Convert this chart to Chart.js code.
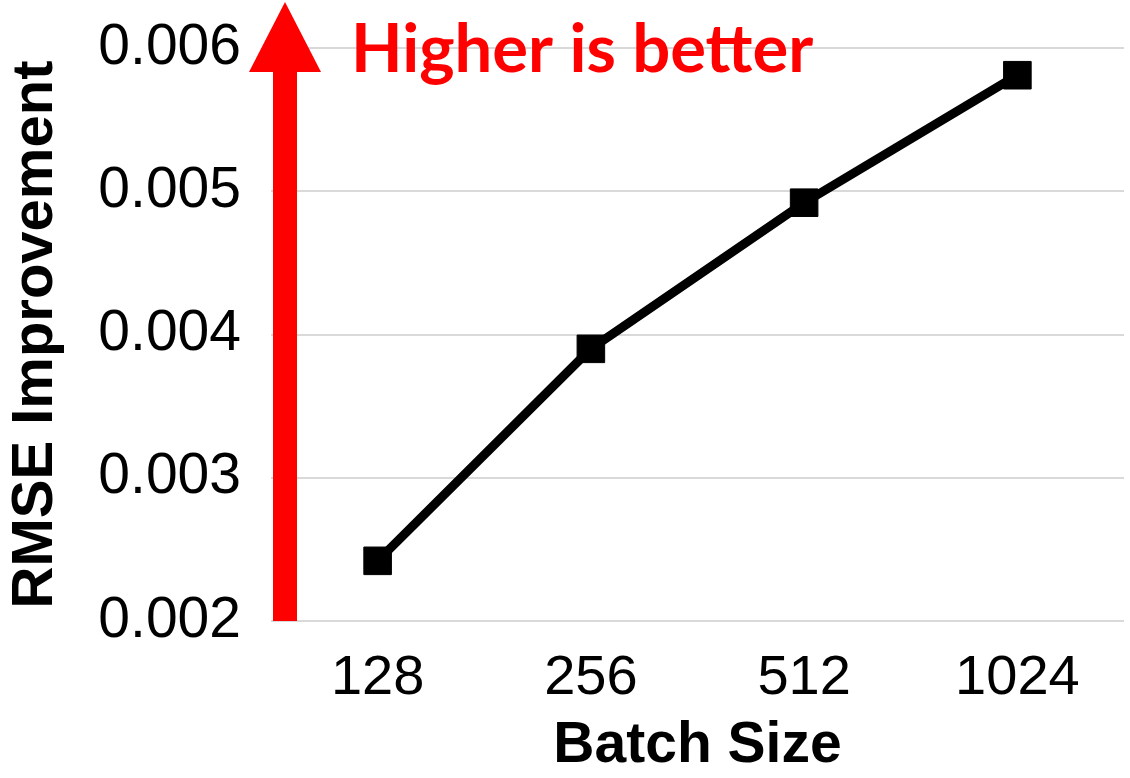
<!DOCTYPE html>
<html>
<head>
<meta charset="utf-8">
<script src="https://cdn.jsdelivr.net/npm/chart.js@4.4.0/dist/chart.umd.min.js"></script>
<style>
  html, body { margin: 0; padding: 0; background: #fff; }
  #wrap { width: 1130px; height: 778px; }
</style>
</head>
<body>
<div id="wrap"><canvas id="rmse_chart" width="1130" height="778"></canvas></div>
<script>
var batchSizes = ['128', '256', '512', '1024'];
var rmseImprovement = [0.00242, 0.0039, 0.00492, 0.00581];
var yTickValues = [0.002, 0.003, 0.004, 0.005, 0.006];

// red "higher is better" arrow + label, drawn over the chart
var arrowPlugin = {
    id: 'higherArrow',
    afterDraw: function(chart){
        var ctx = chart.ctx;
        var area = chart.chartArea;
        var cx = area.left + 14;
        var headBase = area.top + 24;
        ctx.save();
        ctx.fillStyle = '#ff0000';
        ctx.fillRect(cx - 12, headBase, 24, area.bottom - headBase);
        ctx.beginPath();
        ctx.moveTo(cx, area.top - 46);
        ctx.lineTo(cx + 36, headBase);
        ctx.lineTo(cx - 36, headBase);
        ctx.closePath();
        ctx.fill();
        ctx.font = 'bold 67px Lato';
        ctx.textBaseline = 'alphabetic';
        ctx.textAlign = 'left';
        ctx.fillText('Higher is better', area.left + 80, headBase);
        ctx.restore();
    }
};

function init(){
    var ctx = document.getElementById('rmse_chart').getContext('2d');
    var chart = new Chart(ctx, {
        type: 'line',
        data: {
            labels: batchSizes,
            datasets: [{
                data: rmseImprovement,
                borderColor: '#000000',
                backgroundColor: '#000000',
                borderWidth: 9,
                tension: 0,
                pointStyle: 'rect',
                pointRadius: 19.5,
                pointBorderWidth: 1,
                pointBackgroundColor: '#000000',
                pointBorderColor: '#000000',
                clip: false
            }]
        },
        options: {
            responsive: false,
            animation: false,
            devicePixelRatio: 1,
            layout: {
                autoPadding: false,
                padding: { top: 48, right: 6, left: 0, bottom: 0 }
            },
            plugins: {
                legend: { display: false },
                tooltip: { enabled: false }
            },
            scales: {
                x: {
                    type: 'category',
                    offset: true,
                    grid: { display: false, drawTicks: false },
                    border: { display: false },
                    ticks: {
                        color: '#000000',
                        padding: 24,
                        font: { family: 'Liberation Sans', size: 56 }
                    },
                    title: {
                        display: true,
                        text: 'Batch Size',
                        color: '#000000',
                        padding: { top: 0, bottom: 0 },
                        font: { family: 'Liberation Sans', size: 57, weight: 'bold', lineHeight: 1.1 }
                    },
                    afterFit: function(scale){
                        scale.height = 157;
                        scale.paddingLeft = 0;
                        scale.paddingRight = 0;
                    }
                },
                y: {
                    min: 0.002,
                    max: 0.006,
                    grid: { color: '#d9d9d9', lineWidth: 2, drawTicks: false },
                    border: { display: false },
                    afterBuildTicks: function(scale){
                        scale.ticks = yTickValues.map(function(v){ return { value: v }; });
                    },
                    ticks: {
                        color: '#000000',
                        padding: 30,
                        font: { family: 'Liberation Sans', size: 57 },
                        callback: function(v){ return Number(v).toFixed(3); }
                    },
                    title: {
                        display: true,
                        text: 'RMSE Improvement',
                        color: '#000000',
                        padding: { top: 1, bottom: 0 },
                        font: { family: 'Liberation Sans', size: 58, weight: 'bold' }
                    },
                    afterFit: function(scale){
                        scale.width = 271;
                        scale.paddingTop = 0;
                        scale.paddingBottom = 0;
                    }
                }
            }
        },
        plugins: [arrowPlugin]
    });
}

window.onload = init;
</script>
</body>
</html>
